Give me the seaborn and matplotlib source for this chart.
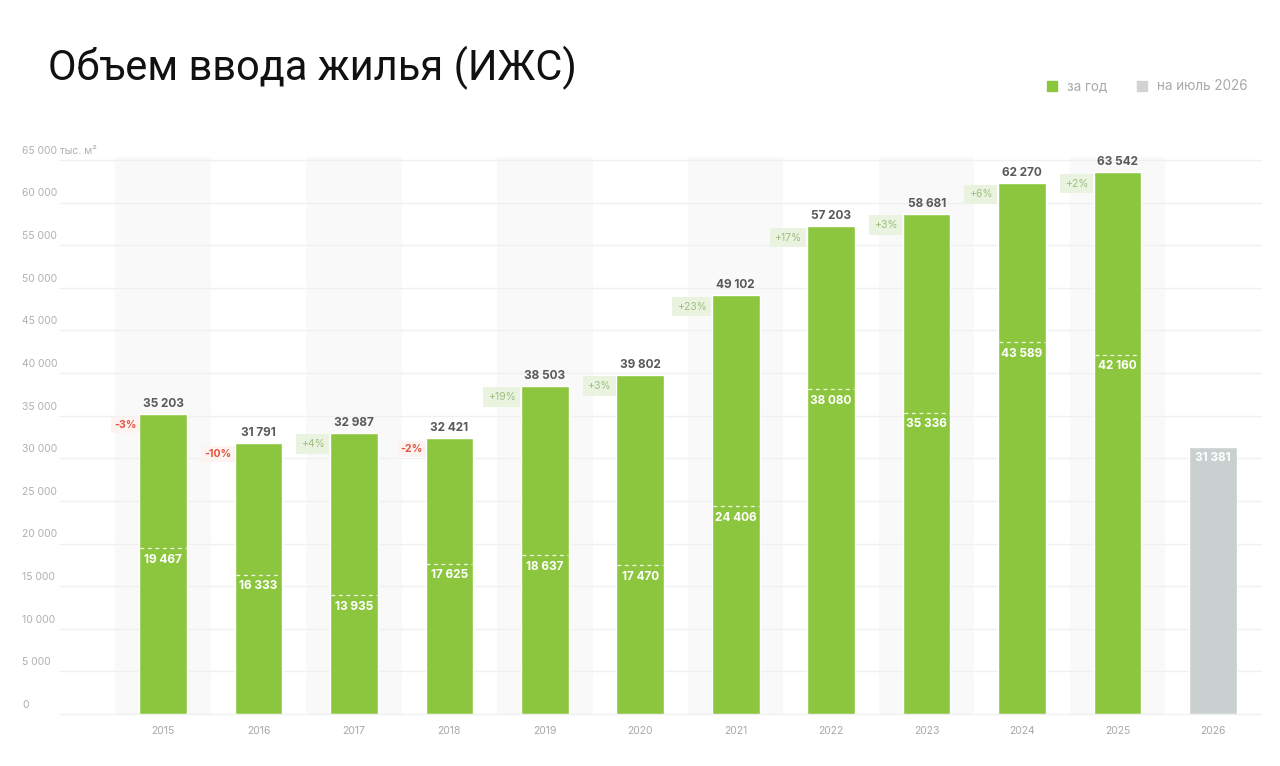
import matplotlib
matplotlib.use("Agg")
import matplotlib.pyplot as plt
from matplotlib.patches import Rectangle
from matplotlib.transforms import blended_transform_factory
import seaborn as sns
import pandas as pd

# ---------------- data ----------------
years = ["2015", "2016", "2017", "2018", "2019", "2020", "2021", "2022",
         "2023", "2024", "2025", "2026"]
totals = [35203, 31791, 32987, 32421, 38503, 39802, 49102, 57203,
          58681, 62270, 63542, 31381]
inner_vals = [19467, 16333, 13935, 17625, 18637, 17470, 24406, 38080,
              35336, 43589, 42160, None]
changes = [-3, -10, 4, -2, 19, 3, 23, 17, 3, 6, 2, None]
kinds = ["за год"] * 11 + ["на июль 2026"]
y_ticks = [0, 5000, 10000, 15000, 20000, 25000, 30000, 35000, 40000,
           45000, 50000, 55000, 60000, 65000]
title = "Объем ввода жилья (ИЖС)"
unit = "тыс. м²"

GREEN = "#8cc63f"
GRAY_BAR = "#c9d0cf"
GRAY_LEG = "#d3d3d3"

def fmt(v):
    return f"{v:,}".replace(",", " ")

sns.set_theme(style="white")
plt.rcParams["font.family"] = ["Inter", "DejaVu Sans"]

fig = plt.figure(figsize=(12.8, 7.66), dpi=100)
W, H = 1280, 766
left_px, right_px, top_px, bot_px = 115.3, 1260.7, 160, 714
ax = fig.add_axes([left_px / W, 1 - bot_px / H,
                   (right_px - left_px) / W, (bot_px - top_px) / H])

df = pd.DataFrame({"year": years, "value": totals, "kind": kinds})

# alternating column bands
for i in range(0, len(years), 2):
    ax.axvspan(i - 0.5, i + 0.5, ymin=0, ymax=1.006, color="#f9f9f9",
               zorder=0, lw=0, clip_on=False)

# gridlines
for t in y_ticks:
    ax.axhline(t, xmin=-0.048, xmax=1.0, color="#f0f0f0", lw=1,
               zorder=0.5, clip_on=False)

sns.barplot(data=df, x="year", y="value", hue="kind",
            palette={"за год": GREEN, "на июль 2026": GRAY_BAR},
            width=0.5, dodge=False, legend=False, ax=ax, zorder=2,
            saturation=1)

ax.set_xlim(-0.5, len(years) - 0.5)
ax.set_ylim(0, 65000)
ax.set_xlabel("")
ax.set_ylabel("")
ax.set_xticks([])
ax.set_yticks([])
for s in ax.spines.values():
    s.set_visible(False)

# y tick labels (left aligned, above gridlines)
tr = blended_transform_factory(fig.transFigure, ax.transData)
for t in y_ticks:
    lab = fmt(t)
    if t == y_ticks[-1]:
        lab = lab + " " + unit
    ax.annotate(lab, (22 / W, t), xycoords=tr, xytext=(0, 3),
                textcoords="offset points", ha="left", va="bottom",
                fontsize=7.5, color="#b0b0b0", annotation_clip=False)

# year labels
for i, y in enumerate(years):
    ax.annotate(y, (i, 0), xytext=(0, -9), textcoords="offset points",
                ha="center", va="top", fontsize=7.5, color="#a8a8a8",
                annotation_clip=False)

# value labels
for i, v in enumerate(totals):
    if kinds[i] == "за год":
        ax.annotate(fmt(v), (i, v), xytext=(0, 3), textcoords="offset points",
                    ha="center", va="bottom", fontsize=8.5, fontweight="bold",
                    color="#5a5a5a", zorder=5)
    else:
        ax.annotate(fmt(v), (i, v), xytext=(0, -4), textcoords="offset points",
                    ha="center", va="top", fontsize=8.5, fontweight="bold",
                    color="white", zorder=5)

# inner values with dashed line
for i, iv in enumerate(inner_vals):
    if iv is None:
        continue
    ax.plot([i - 0.24, i + 0.24], [iv, iv], color="white", lw=0.9,
            ls=(0, (3, 3)), zorder=4, alpha=0.9)
    ax.annotate(fmt(iv), (i, iv), xytext=(0, -4), textcoords="offset points",
                ha="center", va="top", fontsize=8.5, fontweight="bold",
                color="white", zorder=5)

# change labels
for i, c in enumerate(changes):
    if c is None:
        continue
    x = i - 0.25
    y = totals[i]
    if c > 0:
        ax.annotate(f"+{c}%", (x, y), xytext=(-4, -8),
                    textcoords="offset points", ha="right", va="center",
                    fontsize=7.5, color="#9dbf7e", zorder=5,
                    bbox=dict(boxstyle="square,pad=0.45", fc="#eaf3df",
                              ec="none"))
    else:
        ax.annotate(f"{c}%", (x, y), xytext=(-2, -8),
                    textcoords="offset points", ha="right", va="center",
                    fontsize=7.5, color="#e5533f", fontweight="bold", zorder=5,
                    bbox=dict(boxstyle="square,pad=0.3", fc="#fdf3f1",
                              ec="none"))

# title
fig.text(48 / W, 1 - 80 / H, title, fontsize=30, color="#111111",
         ha="left", va="baseline", family=["Roboto", "DejaVu Sans"])

# legend
leg_items = [("за год", GREEN, 1047), ("на июль 2026", GRAY_LEG, 1137)]
for lab, col, xp in leg_items:
    fig.patches.append(Rectangle((xp / W, 1 - 91 / H), 10 / W, 10 / H,
                                 transform=fig.transFigure, color=col))
    fig.text((xp + 20) / W, 1 - 86 / H, lab, fontsize=9.7, color="#aaaaaa",
             ha="left", va="center")

fig.savefig("out.png", dpi=100)
